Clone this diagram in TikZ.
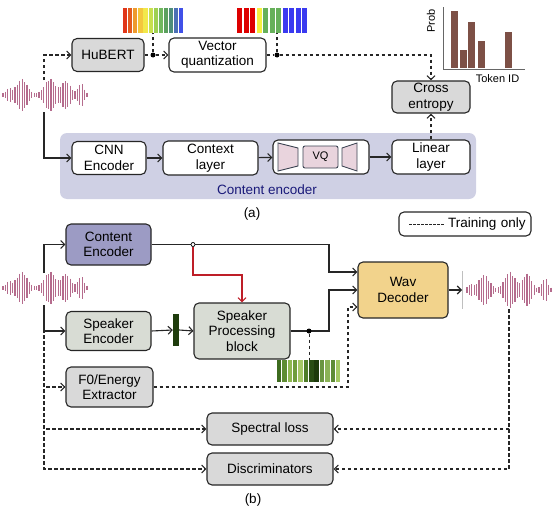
\documentclass[tikz,border=0pt]{standalone}
\usepackage{fontspec}
\setmainfont{Liberation Sans}
\usetikzlibrary{arrows.meta}
\newcommand\boxfont{\fontsize{13.5}{15.5}\selectfont}
\newcommand\smallfont{\fontsize{11}{13}\selectfont}
\definecolor{wavepink}{HTML}{B56C8D}
\definecolor{encbg}{HTML}{CFD0E4}
\definecolor{encnavy}{HTML}{1A1A7A}
\definecolor{vqpink}{HTML}{E9D4DD}
\definecolor{vqedge}{HTML}{3E4654}
\definecolor{contentfill}{HTML}{9C9BC4}
\definecolor{speakerfill}{HTML}{D8DCD4}
\definecolor{decfill}{HTML}{F2D38C}
\definecolor{brownbar}{HTML}{7D5046}
\definecolor{embgreen}{HTML}{1F3C0C}
\definecolor{sa1}{HTML}{E03518}\definecolor{sa2}{HTML}{E25A1E}
\definecolor{sa3}{HTML}{EE9A2E}\definecolor{sa4}{HTML}{F4C63C}
\definecolor{sa5}{HTML}{F2E84A}\definecolor{sa6}{HTML}{C8E04E}
\definecolor{sa7}{HTML}{9ED052}\definecolor{sa8}{HTML}{70B85E}
\definecolor{sa9}{HTML}{5BA05E}\definecolor{sa10}{HTML}{4E8E7A}
\definecolor{sa11}{HTML}{4C70B4}\definecolor{sa12}{HTML}{4050E8}
\definecolor{sbR}{HTML}{DD0000}\definecolor{sbY}{HTML}{F5F040}
\definecolor{sbG}{HTML}{66B05A}\definecolor{sbB}{HTML}{3A3AF0}
\definecolor{gr1}{HTML}{3D6B1F}\definecolor{gr2}{HTML}{5E8C32}
\definecolor{gr3}{HTML}{8FB850}\definecolor{gr4}{HTML}{6F9D3C}
\definecolor{gr5}{HTML}{A6C866}\definecolor{gr6}{HTML}{4F7D28}
\definecolor{gr7}{HTML}{2A4D14}\definecolor{gr8}{HTML}{1E3A0C}
\definecolor{gr9}{HTML}{6A9640}\definecolor{gr10}{HTML}{8BB356}
\definecolor{gr11}{HTML}{5F8C36}\definecolor{gr12}{HTML}{A4C862}
\begin{document}
\begin{tikzpicture}[x=1pt,y=-1pt,
  box/.style={draw=black!85,line width=1.1pt,rounded corners=5pt,align=center,
    font=\boxfont,inner sep=1pt,fill=white},
  graybox/.style={box,fill=gray!30},
  arr/.style={-{Straight Barb[length=4pt,width=8pt]},line width=1.1pt,draw=black!85},
  dasharr/.style={arr,dash pattern=on 3.5pt off 2.5pt},
  dashln/.style={line width=1.1pt,draw=black!85,dash pattern=on 3.5pt off 2.5pt},
  dotc/.style={circle,fill=black,inner sep=0pt,minimum size=5pt},
  wave/.style={draw=wavepink,line width=1.05pt}]
\useasboundingbox (0,0) rectangle (552,514);

% ---------------- (a) ----------------
% Waveform
\foreach \i in {0,...,35}{
  \pgfmathsetmacro\x{3+2.4*\i}
  \pgfmathsetmacro\h{(1.5+5*exp(-((\x-9)/4)^2)+15*exp(-((\x-22)/7)^2)+15*exp(-((\x-50)/7)^2)
    +13*exp(-((\x-66)/6)^2)+10*exp(-((\x-81)/4)^2))*(0.85+0.15*abs(cos(\i*71)))}
  \draw[wave] (\x,{95-\h}) -- (\x,{95+\h});
}
\coordinate (w1t) at (44,80);
\coordinate (w1b) at (44,112);

% Content encoder background
\fill[encbg,rounded corners=7pt] (60,133) rectangle (476,199);
\node[font=\boxfont,text=encnavy] (enclabel) at (267,190) {Content encoder};

% Blocks
\node[graybox,minimum width=72pt,minimum height=33pt] (hubert) at (108,55) {HuBERT};
\node[box,minimum width=97pt,minimum height=34pt] (vq) at (217.5,55) {Vector\\quantization};
\node[graybox,minimum width=78pt,minimum height=32pt] (cross) at (431,97) {Cross\\entropy};
\node[box,minimum width=74pt,minimum height=33pt] (cnn) at (109,158) {CNN\\Encoder};
\node[box,minimum width=95pt,minimum height=34pt] (context) at (210.5,158) {Context\\layer};
\node[box,minimum width=96pt,minimum height=34pt] (vqmod) at (321,157) {};
\node[box,minimum width=78pt,minimum height=34pt] (linear) at (431,157) {Linear\\layer};

% VQ module inside
\draw[vqedge,fill=vqpink,line width=0.9pt] (278,143) -- (298,148) -- (298,166) -- (278,171) -- cycle;
\draw[vqedge,fill=vqpink,line width=0.9pt] (342,148) -- (357,143) -- (357,171) -- (342,166) -- cycle;
\node[draw=vqedge,fill=vqpink,line width=0.9pt,rounded corners=2pt,minimum width=35pt,
  minimum height=22pt,font=\smallfont] (vqcore) at (320.5,157) {VQ};

% Token bars
\foreach \c [count=\i from 0] in {sa1,sa2,sa3,sa4,sa5,sa6,sa7,sa8,sa9,sa10,sa11,sa12}
  \fill[\c] ({123+5.1*\i},8) rectangle ++(4.2,25);
\foreach \c [count=\i from 0] in {sbR,sbR,sbR,sbY,sbG,sbG,sbG,sbB,sbB,sbB,sbB}
  \fill[\c] ({237+6.5*\i},8) rectangle ++(5.4,25);
\coordinate (bars1) at (153,33);
\coordinate (bars2) at (277,33);

% Probability chart
\foreach \x/\y in {451/11,460/50,468/22,478/41,505/32}
  \fill[brownbar] (\x,\y) rectangle (\x+7,68);
\draw[black!60,line width=0.9pt] (443,7) -- (443,69.5) -- (525,69.5);
\node[font=\smallfont,rotate=90] (prob) at (431,21) {Prob};
\node[font=\smallfont] (tokenid) at (497.5,79) {Token ID};

% Connectors
\node[dotc] (d1) at (153,55) {};
\node[dotc] (d2) at (277,55) {};
\draw[dasharr] (w1t) |- (hubert.west);
\draw[arr] (w1b) |- (cnn.west);
\draw[dashln] (hubert.east) -- (d1);
\draw[dasharr] (d1) -- (vq.west);
\draw[dashln] (d1) -- (bars1);
\draw[dashln] (vq.east) -- (d2);
\draw[dashln] (d2) -- (bars2);
\draw[dasharr] (d2) -| (cross.north);
\draw[arr] (cnn) -- (context);
\draw[arr] (context) -- (vqmod);
\draw[arr] (vqmod) -- (linear);
\draw[dasharr] (linear.north) -- (cross.south);

\node[font=\boxfont] (alabel) at (252,214) {(a)};

% ---------------- (b) ----------------
% Legend
\node[box,minimum width=132pt,minimum height=24pt,text width=126pt,align=right] (legend) at (465,224) {Training only\,};
\draw[dashln,dash pattern=on 2.5pt off 1.5pt,line width=0.9pt] (409,224) -- (444,224);

% Input waveform
\foreach \i in {0,...,35}{
  \pgfmathsetmacro\x{3+2.4*\i}
  \pgfmathsetmacro\h{(1.5+5*exp(-((\x-9)/4)^2)+15*exp(-((\x-22)/7)^2)+15*exp(-((\x-50)/7)^2)
    +13*exp(-((\x-66)/6)^2)+10*exp(-((\x-81)/4)^2))*(0.85+0.15*abs(cos(\i*71)))}
  \draw[wave] (\x,{288-\h}) -- (\x,{288+\h});
}
\coordinate (w2t) at (44,273);
\coordinate (w2b) at (44,305);

% Output waveform
\draw[black!25,line width=0.6pt] (462.5,271) -- (462.5,309);
\foreach \i in {0,...,35}{
  \pgfmathsetmacro\x{467+2.4*\i}
  \pgfmathsetmacro\h{(1.5+4*exp(-((\x-471)/4)^2)+14*exp(-((\x-484)/7)^2)+17*exp(-((\x-510)/7)^2)
    +15*exp(-((\x-527)/6)^2)+10*exp(-((\x-545)/4)^2))*(0.85+0.15*abs(cos(\i*71)))}
  \draw[wave] (\x,{290-\h}) -- (\x,{290+\h});
}
\coordinate (w3l) at (462,290);
\coordinate (w3b) at (509,309);

% Blocks
\node[box,fill=contentfill,minimum width=85pt,minimum height=41pt] (content) at (108.5,244.5) {Content\\Encoder};
\node[box,fill=speakerfill,minimum width=85pt,minimum height=39pt] (speaker) at (108.5,331) {Speaker\\Encoder};
\node[box,fill=speakerfill,minimum width=96pt,minimum height=56pt] (spb) at (242,331) {Speaker\\Processing\\block};
\node[graybox,minimum width=87pt,minimum height=40pt] (f0) at (109.5,387) {F0/Energy\\Extractor};
\node[box,fill=decfill,minimum width=90pt,minimum height=56pt] (wavdec) at (403,290) {Wav\\Decoder};
\node[graybox,minimum width=126pt,minimum height=32pt] (spectral) at (270,429) {Spectral loss};
\node[graybox,minimum width=126pt,minimum height=32pt] (disc) at (270,469) {Discriminators};
\node[fill=embgreen,minimum width=6pt,minimum height=32pt,inner sep=0pt] (emb) at (176,330) {};

% Speaker feature bars
\foreach \c [count=\i from 0] in {gr1,gr2,gr3,gr4,gr5,gr6,gr7,gr8,gr9,gr10,gr11,gr12}
  \fill[\c] ({277+5.35*\i},360) rectangle ++(4.4,22);
\coordinate (gbars) at (309,360);

% Connectors
\draw[arr] (w2t) |- (content.west);
\draw[arr] (w2b) |- (speaker.west);
\draw[dasharr] (w2b) |- (f0.west);
\draw[dasharr] (w2b) |- (spectral.west);
\draw[dasharr] (w2b) |- (disc.west);
\draw[arr] (content.east) -| (329,272) -- (wavdec.west |- 0,272);
\draw[arr] (speaker.east) -- (emb.west);
\draw[arr] (emb.east) -- (spb.west);
\draw[arr] (spb.east) -| (329,290) -- (wavdec.west);
\draw[dasharr] (f0.east) -| (348,307) -- (wavdec.west |- 0,307);
\draw[arr] (wavdec.east) -- (w3l);
\draw[dasharr] (w3b) |- (spectral.east);
\draw[dasharr] (w3b) |- (disc.east);
\node[dotc] (d4) at (309,331) {};
\draw[dashln,line width=0.9pt] (d4) -- (gbars);
\node[circle,draw=black,fill=white,inner sep=0pt,minimum size=4pt,line width=0.7pt] (d3) at (193,244.5) {};
\draw[arr,draw={rgb,255:red,190;green,30;blue,40}] (d3) -- (d3 |- 0,275) -| (spb.north);

\node[font=\boxfont] (blabel) at (253,500) {(b)};
\end{tikzpicture}
\end{document}
